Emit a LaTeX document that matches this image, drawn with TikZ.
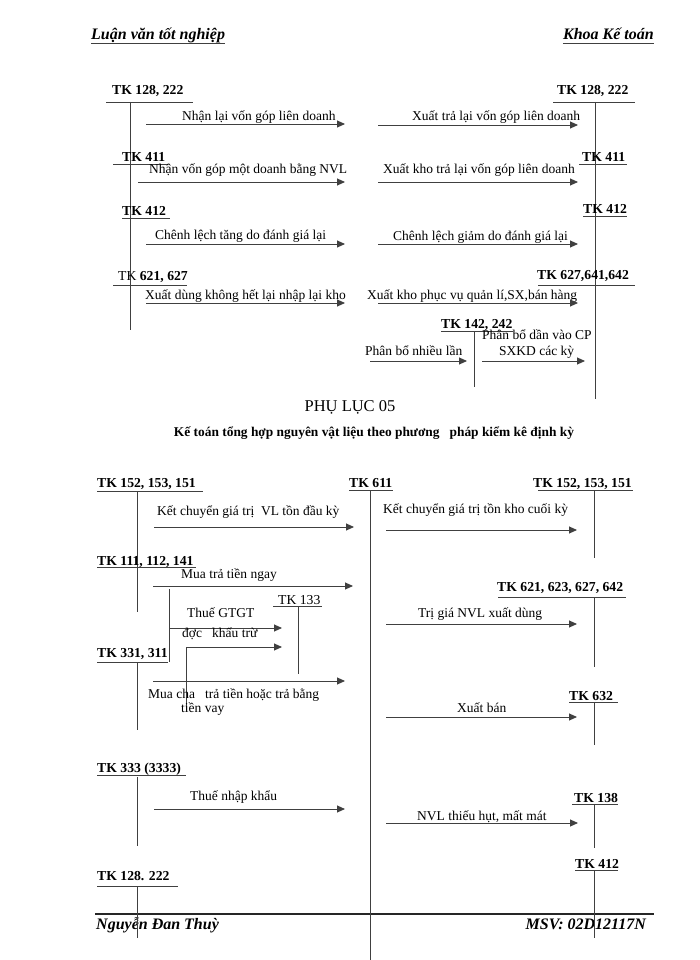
\documentclass[tikz,border=0pt]{standalone}
\usepackage{fontspec}
\setmainfont{Liberation Serif}
\usetikzlibrary{arrows.meta}
\newcommand\harrow[4]{\coordinate (#1s) at (#2,#4); \coordinate (#1e) at (#3,#4); \draw[arr] (#1s) -- (#1e);}
\newcommand\hseg[5]{\coordinate (#1a) at (#2,#4); \coordinate (#1b) at (#3,#4); \draw[ln] (#1a) -- (#1b);}
\newcommand\vseg[5]{\coordinate (#1a) at (#2,#3); \coordinate (#1b) at (#2,#4); \draw[ln] (#1a) -- (#1b);}
\begin{document}
\begin{tikzpicture}[x=1pt,y=-1pt,
  lbl/.style={font=\fontsize{13.5}{15}\selectfont, inner sep=0pt, anchor=base west},
  tk/.style={font=\fontsize{13.7}{15}\selectfont\bfseries, inner sep=0pt, anchor=base west},
  hdr/.style={font=\fontsize{16}{18}\selectfont\bfseries\itshape, inner sep=0pt, anchor=base west},
  ln/.style={draw=black!75, line width=0.9pt},
  arr/.style={ln, -{Triangle[length=8pt,width=7pt]}}]
\useasboundingbox (0,0) rectangle (700,960);
\fill[white] (0,0) rectangle (700,960);

% header
\node[hdr] (hdrL) at (91,40) {Luận văn tốt nghiệp};
\node[hdr, anchor=base east] (hdrR) at (654,40) {Khoa Kế toán};
\draw[ln] ([yshift=-3pt]hdrL.base west) -- ([yshift=-3pt]hdrL.base east);
\draw[ln] ([yshift=-3pt]hdrR.base west) -- ([yshift=-3pt]hdrR.base east);

% footer
\coordinate (fl) at (95,914); \coordinate (fr) at (654,914);
\draw[draw=black!85, line width=1.6pt] (fl) -- (fr);
\node[hdr] (ftL) at (96,929) {Nguyễn Đan Thuỳ};
\node[hdr, anchor=base east] (ftR) at (646,929) {MSV: 02D12117N};

% ---------- top section ----------
\node[tk] (tkA1) at (112,95) {TK 128, 222};
\hseg{hA1}{106}{193}{102}{}
\vseg{vA}{130}{102}{330}{}
\node[tk] (tkB1) at (557,95) {TK 128, 222};
\hseg{hB1}{553}{635}{102}{}
\vseg{vB}{595}{102}{399}{}

\node[lbl] (t1) at (182,121) {Nhận lại vốn góp liên doanh};
\harrow{a1}{146}{345}{124}
\node[lbl] (t2) at (412,121) {Xuất trả lại vốn góp liên doanh};
\harrow{a2}{378}{578}{125}

\node[tk] (tkA2) at (122,161) {TK 411};
\hseg{hA2}{113}{168}{164}{}
\node[tk] (tkB2) at (582,161) {TK 411};
\hseg{hB2}{579}{627}{164}{}
\node[lbl] (t3) at (149,174) {Nhận vốn góp một doanh bằng NVL};
\harrow{a3}{138}{345}{182}
\node[lbl] (t4) at (383,174) {Xuất kho trả lại vốn góp liên doanh};
\harrow{a4}{378}{578}{182}

\node[tk] (tkA3) at (122,215) {TK 412};
\hseg{hA3}{122}{170}{218}{}
\node[tk] (tkB3) at (583,213) {TK 412};
\hseg{hB3}{583}{627}{216}{}
\node[lbl] (t5) at (155,239) {Chênh lệch tăng do đánh giá lại};
\harrow{a5}{146}{345}{244}
\node[lbl] (t6) at (393,240) {Chênh lệch giảm do đánh giá lại};
\harrow{a6}{378}{578}{244}

\node[tk] (tkA4) at (118,280) {\mdseries TK \bfseries 621, 627};
\hseg{hA4}{113}{187}{285}{}
\node[tk] (tkB4) at (537,279) {TK 627,641,642};
\hseg{hB4}{538}{635}{285}{}
\node[lbl] (t7) at (145,299) {Xuất dùng không hết lại nhập lại kho};
\harrow{a7}{146}{345}{303}
\node[lbl] (t8) at (367,299) {Xuất kho phục vụ quản lí,SX,bán hàng};
\harrow{a8}{378}{578}{303}

\node[tk] (tkC) at (441,328) {TK 142, 242};
\hseg{hC}{441}{513}{331}{}
\vseg{vC}{474}{331}{387}{}
\node[lbl] (t9) at (365,355) {Phân bổ nhiều lần};
\harrow{a9}{370}{467}{361}
\node[lbl] (t10) at (482,339) {Phân bổ dần vào CP};
\node[lbl] (t11) at (499,355) {SXKD các kỳ};
\harrow{a10}{482}{585}{361}

% ---------- titles ----------
\node[font=\fontsize{16.5}{18}\selectfont, inner sep=0pt, anchor=base] (title1) at (350,411) {PHỤ LỤC 05};
\node[font=\fontsize{13.4}{15}\selectfont\bfseries, inner sep=0pt, anchor=base] (title2) at (374,436) {Kế toán tổng hợp nguyên vật liệu theo phương \ \ pháp kiểm kê định kỳ};

% ---------- lower section ----------
\node[tk] (tkD1) at (97,487) {TK 152, 153, 151};
\hseg{hD1}{97}{203}{491}{}
\vseg{vD1}{137}{491}{612}{}
\node[tk] (tkD2) at (349,487) {TK 611};
\hseg{hD2}{349}{393}{490}{}
\vseg{vD2}{370}{490}{960}{}
\node[tk] (tkD3) at (533,487) {TK 152, 153, 151};
\hseg{hD3}{538}{633}{490}{}
\vseg{vD3}{594}{490}{558}{}

\node[lbl] (u1) at (157,515) {Kết chuyển giá trị \ VL tồn đầu kỳ};
\harrow{b1}{154}{354}{527}
\node[lbl] (u2) at (383,513) {Kết chuyển giá trị tồn kho cuối kỳ};
\harrow{b2}{386}{577}{530}

\node[tk] (tkE) at (97,565) {TK 111, 112, 141};
\hseg{hE}{97}{196}{567}{}
\node[lbl] (u3) at (181,578) {Mua trả tiền ngay};
\harrow{b3}{153}{353}{586}
\vseg{vBr}{169}{589}{662}{}

\node[lbl, font=\fontsize{13.7}{15}\selectfont] (tkF) at (278,604) {TK 133};
\hseg{hF}{273}{322}{606}{}
\vseg{vF}{298}{606}{674}{}
\node[lbl] (u4) at (187,617) {Thuế GTGT};
\harrow{b4}{169}{282}{628}
\node[lbl] (u5) at (182,637) {đợc \ \ khấu trừ};
\coordinate (b5s) at (186,711); \coordinate (b5m) at (186,647); \coordinate (b5e) at (282,647);
\draw[arr] (b5s) -- (b5m) -- (b5e);

\node[tk] (tkG) at (97,657) {TK 331, 311};
\hseg{hG}{97}{168}{662}{}
\vseg{vG}{137}{663}{730}{}
\harrow{b6}{153}{345}{681}
\node[lbl] (u6) at (148,698) {Mua cha \ \ trả tiền hoặc trả bằng};
\node[lbl] (u7) at (181,712) {tiền vay};

\node[tk] (tkH) at (497,591) {TK 621, 623, 627, 642};
\hseg{hH}{498}{626}{597}{}
\vseg{vH}{594}{597}{667}{}
\node[lbl] (u8) at (418,617) {Trị giá NVL xuất dùng};
\harrow{b7}{386}{577}{624}

\node[tk] (tkI) at (569,700) {TK 632};
\hseg{hI}{569}{618}{702}{}
\vseg{vI}{594}{702}{745}{}
\node[lbl] (u9) at (457,712) {Xuất bán};
\harrow{b8}{386}{577}{717}

\node[tk] (tkJ) at (97,772) {TK 333 (3333)};
\hseg{hJ}{97}{186}{775}{}
\vseg{vJ}{137}{777}{846}{}
\node[lbl] (u10) at (190,800) {Thuế nhập khẩu};
\harrow{b9}{154}{345}{809}

\node[tk] (tkK) at (574,802) {TK 138};
\hseg{hK}{572}{618}{804}{}
\vseg{vK}{594}{804}{848}{}
\node[lbl] (u11) at (417,820) {NVL thiếu hụt, mất mát};
\harrow{b10}{386}{578}{823}

\node[tk] (tkL) at (575,868) {TK 412};
\hseg{hL}{575}{618}{870}{}
\vseg{vL}{594}{870}{938}{}

\node[tk] (tkM) at (97,880) {TK 128. 222};
\hseg{hM}{97}{178}{886}{}
\vseg{vM}{137}{886}{938}{}
\end{tikzpicture}
\end{document}
